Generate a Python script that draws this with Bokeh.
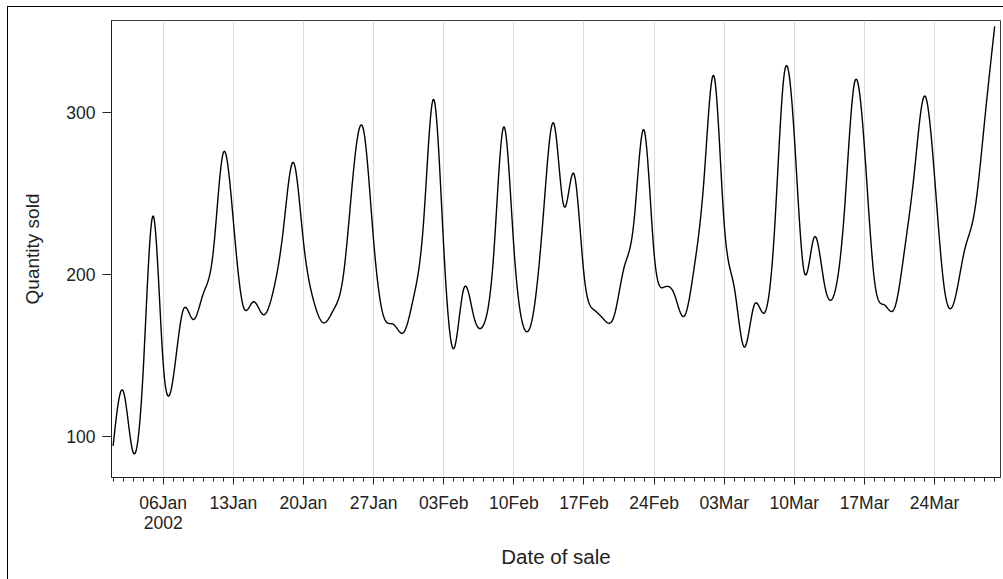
import numpy as np
from bokeh.plotting import figure
from bokeh.models import Range1d, FixedTicker
from bokeh.embed import file_html
from bokeh.resources import INLINE

# Daily quantity sold, 01Jan2002 .. 30Mar2002
start_date = "2002-01-01"
quantity = [94, 128, 90, 140, 236, 145, 136, 178, 172, 188,
            214, 275, 233, 180, 183, 175, 190, 228, 269, 220,
            184, 170, 178, 200, 264, 289, 221, 174, 169, 164,
            186, 233, 308, 217, 154, 191, 174, 169, 213, 291,
            217, 167, 178, 241, 293, 242, 262, 200, 178, 172,
            174, 204, 233, 289, 213, 192, 188, 174, 204, 260,
            322, 231, 192, 155, 181, 176, 225, 324, 285, 201,
            223, 194, 188, 239, 318, 278, 196, 181, 179, 215,
            264, 310, 260, 190, 184, 215, 239, 295, 353]

# weekly major ticks (days since 01Jan2002) and their labels
tick_days = [5, 12, 19, 26, 33, 40, 47, 54, 61, 68, 75, 82]
tick_labels = ["06Jan\n2002", "13Jan", "20Jan", "27Jan", "03Feb", "10Feb",
               "17Feb", "24Feb", "03Mar", "10Mar", "17Mar", "24Mar"]
y_ticks = [100, 200, 300]

days = np.arange(len(quantity), dtype=float)
vals = np.asarray(quantity, dtype=float)


def natural_spline(x, y, per=16):
    n = len(x)
    h = np.diff(x)
    A = np.zeros((n, n))
    b = np.zeros(n)
    A[0, 0] = A[-1, -1] = 1.0
    for i in range(1, n - 1):
        A[i, i - 1] = h[i - 1]
        A[i, i] = 2 * (h[i - 1] + h[i])
        A[i, i + 1] = h[i]
        b[i] = 3 * ((y[i + 1] - y[i]) / h[i] - (y[i] - y[i - 1]) / h[i - 1])
    c = np.linalg.solve(A, b)
    xs, ys = [], []
    for i in range(n - 1):
        bi = (y[i + 1] - y[i]) / h[i] - h[i] * (2 * c[i] + c[i + 1]) / 3
        di = (c[i + 1] - c[i]) / (3 * h[i])
        t = np.linspace(0, h[i], per, endpoint=False)
        xs.append(x[i] + t)
        ys.append(y[i] + bi * t + c[i] * t ** 2 + di * t ** 3)
    xs.append([x[-1]])
    ys.append([y[-1]])
    return np.concatenate(xs), np.concatenate(ys)


sx, sy = natural_spline(days, vals)

FONT = "Liberation Sans"
INK = "#222222"

p = figure(width=1003, height=579, output_backend="svg", toolbar_location=None,
           x_range=Range1d(-0.16, 88.58), y_range=Range1d(74.5, 356.6),
           min_border_left=111, min_border_top=20, min_border_right=3,
           min_border_bottom=102)

# outer frame of the picture: thin black edge on the left and top
p.styles = {"background-color": "white",
            "box-shadow": "inset 7px 6px 0 0 #ffffff, inset 8px 7px 0 0 #000000"}
p.border_fill_alpha = 0

p.line(sx, sy, line_color="black", line_width=1.4)

p.outline_line_color = "#3a3a3a"
p.outline_line_width = 1
p.background_fill_color = "white"

# x axis
xa = p.xaxis[0]
xa.ticker = FixedTicker(ticks=tick_days, minor_ticks=list(range(0, len(quantity))))
xa.major_label_overrides = {d: lab for d, lab in zip(tick_days, tick_labels)}
xa.axis_label = "Date of sale"
xa.major_tick_out = 7
xa.major_tick_in = 0
xa.minor_tick_out = 4
xa.minor_tick_in = 0
xa.major_label_standoff = 8
xa.axis_label_standoff = 9
xa.axis_line_color = INK
xa.major_tick_line_color = INK
xa.minor_tick_line_color = INK
xa.major_label_text_font = FONT
xa.major_label_text_font_size = "17.5px"
xa.major_label_text_line_height = 1.0
xa.major_label_text_color = INK
xa.axis_label_text_font = FONT
xa.axis_label_text_font_size = "20.5px"
xa.axis_label_text_font_style = "normal"
xa.axis_label_text_color = INK

# y axis
ya = p.yaxis[0]
ya.ticker = FixedTicker(ticks=y_ticks, minor_ticks=[])
ya.axis_label = "Quantity sold"
ya.major_tick_out = 9
ya.major_tick_in = 0
ya.minor_tick_out = 0
ya.minor_tick_in = 0
ya.major_label_standoff = 7
ya.axis_label_standoff = 20
ya.axis_line_color = INK
ya.major_tick_line_color = INK
ya.major_label_text_font = FONT
ya.major_label_text_font_size = "17.5px"
ya.major_label_text_color = INK
ya.axis_label_text_font = FONT
ya.axis_label_text_font_size = "19px"
ya.axis_label_text_font_style = "normal"
ya.axis_label_text_color = INK

p.xgrid.ticker = FixedTicker(ticks=tick_days)
p.xgrid.grid_line_color = "#dadada"
p.xgrid.grid_line_width = 1
p.ygrid.visible = False

open("out.html", "w").write(file_html(p, INLINE))
